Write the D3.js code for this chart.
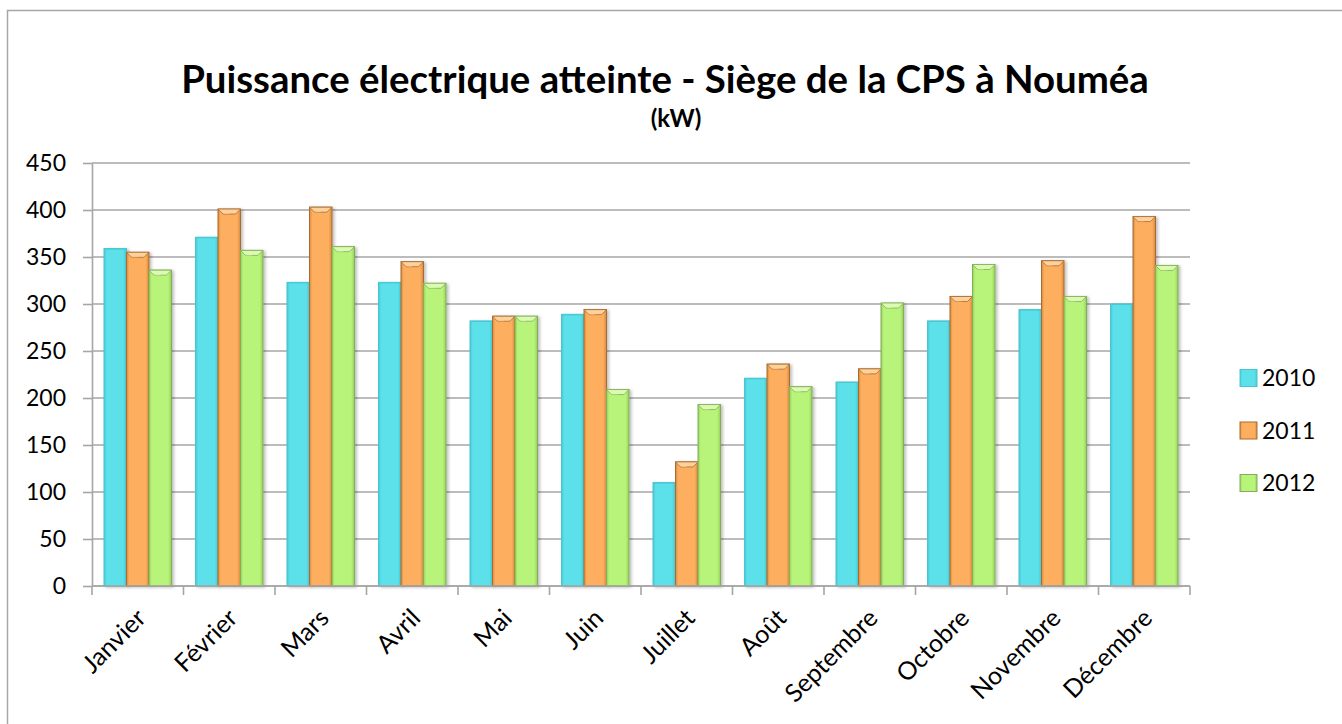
<!DOCTYPE html>
<html>
<head>
<meta charset="utf-8">
<script src="https://cdn.jsdelivr.net/npm/d3@7"></script>
<style>
  html, body { margin: 0; padding: 0; background: #ffffff; }
  svg { display: block; }
</style>
</head>
<body>
<svg id="chart" width="1342" height="724"></svg>
<script>
// ---------- data ----------
const months = ["Janvier", "Février", "Mars", "Avril", "Mai", "Juin", "Juillet", "Août", "Septembre", "Octobre", "Novembre", "Décembre"];
const seriesNames = ["2010", "2011", "2012"];
const values2010 = [359, 371, 323, 323, 282, 289, 110, 221, 217, 282, 294, 300];
const values2011 = [355, 401, 403, 345, 287, 294, 132, 236, 231, 308, 346, 393];
const values2012 = [336, 357, 361, 322, 287, 209, 193, 212, 301, 342, 308, 341];
const yTicks = [0, 50, 100, 150, 200, 250, 300, 350, 400, 450];
const titleText = "Puissance électrique atteinte - Siège de la CPS à Nouméa";
const subtitleText = "(kW)";

const seriesValues = [values2010, values2011, values2012];
const palette = {
  "2010": { base: "#5ce0e9", light: "#8cecf2", dark: "#45c8d4", edge: "#4cc4cf" },
  "2011": { base: "#fdae5f", light: "#ffd29b", dark: "#d88a3e", edge: "#a86c33" },
  "2012": { base: "#b8f47a", light: "#dcfbb2", dark: "#94d15a", edge: "#84ad5a" }
};

// ---------- layout ----------
const svg = d3.select("#chart");
const plot = { left: 92, right: 1190, top: 163, bottom: 586 };
const fontFamily = "Lato, 'Open Sans', 'DejaVu Sans', sans-serif";

// outer border
svg.append("rect")
  .attr("x", 7.5).attr("y", 10.5)
  .attr("width", 1400).attr("height", 800)
  .attr("fill", "#ffffff")
  .attr("stroke", "#a6a6a6").attr("stroke-width", 1.5);

// defs: gradients
const defs = svg.append("defs");
seriesNames.forEach(s => {
  const c = palette[s];
  const g = defs.append("linearGradient").attr("id", "grad" + s)
    .attr("x1", "0").attr("x2", "1").attr("y1", "0").attr("y2", "0");
  g.append("stop").attr("offset", "0%").attr("stop-color", c.dark);
  g.append("stop").attr("offset", "12%").attr("stop-color", c.base);
  g.append("stop").attr("offset", "85%").attr("stop-color", c.base);
  g.append("stop").attr("offset", "100%").attr("stop-color", c.dark);
});
const shadow = defs.append("filter").attr("id", "shadow")
  .attr("x", "-20%").attr("y", "-5%").attr("width", "150%").attr("height", "115%");
shadow.append("feDropShadow").attr("dx", 2).attr("dy", 1).attr("stdDeviation", 1.5)
  .attr("flood-color", "#000").attr("flood-opacity", 0.25);

// scales
const x0 = d3.scaleBand()
  .domain(months)
  .range([plot.left, plot.right])
  .paddingInner(0.2623)
  .paddingOuter(0.1311);
const x1 = d3.scaleBand()
  .domain(seriesNames)
  .range([0, x0.bandwidth()]);
const y = d3.scaleLinear()
  .domain([0, 450])
  .range([plot.bottom, plot.top]);

// gridlines
svg.append("g").selectAll("line")
  .data(yTicks)
  .join("line")
  .attr("x1", plot.left).attr("x2", plot.right)
  .attr("y1", d => y(d)).attr("y2", d => y(d))
  .attr("stroke", "#a6a6a6").attr("stroke-width", 1.6);

// y axis
const yAxis = svg.append("g")
  .attr("transform", `translate(${plot.left},0)`)
  .call(d3.axisLeft(y).tickValues(yTicks).tickSize(9).tickSizeOuter(0).tickPadding(17));
yAxis.select(".domain").attr("stroke", "#a6a6a6").attr("stroke-width", 1.6);
yAxis.selectAll(".tick line").attr("stroke", "#a6a6a6").attr("stroke-width", 1.6);
yAxis.selectAll(".tick text")
  .attr("font-family", fontFamily).attr("font-size", 23).attr("fill", "#000");

// bars
const step = x0.step();
const groups = svg.append("g").selectAll("g")
  .data(months)
  .join("g")
  .attr("transform", d => `translate(${x0(d)},0)`);

groups.each(function(m, i) {
  const g = d3.select(this);
  seriesNames.forEach((s, k) => {
    const v = seriesValues[k][i];
    const bx = x1(s), bw = x1.bandwidth();
    const by = y(v), bh = y(0) - y(v);
    const c = palette[s];
    const bar = g.append("g").attr("filter", "url(#shadow)");
    bar.append("rect")
      .attr("x", bx).attr("y", by).attr("width", bw).attr("height", bh)
      .attr("fill", `url(#grad${s})`)
      .attr("stroke", c.edge).attr("stroke-width", 1);
    const b = 5;
    if (s !== "2010") {
      bar.append("polygon")
        .attr("points", [[bx, by], [bx + bw, by], [bx + bw - b, by + b], [bx + b, by + b]].map(p => p.join(",")).join(" "))
        .attr("fill", c.light).attr("stroke", c.edge).attr("stroke-width", 0.8);
      bar.append("polygon")
        .attr("points", [[bx + b, by + b], [bx + bw / 2, by + b + 0.01], [bx + bw / 2, by + 1]].map(p => p.join(",")).join(" "))
        .attr("fill", c.light).attr("opacity", 0.6);
    } else {
      bar.append("line")
        .attr("x1", bx).attr("x2", bx + bw).attr("y1", by + 0.5).attr("y2", by + 0.5)
        .attr("stroke", c.dark).attr("stroke-width", 1);
    }
  });
});

// x axis line and boundary ticks
svg.append("line")
  .attr("x1", plot.left).attr("x2", plot.right)
  .attr("y1", y(0)).attr("y2", y(0))
  .attr("stroke", "#a6a6a6").attr("stroke-width", 1.6);
const boundaries = months.map(m => x0(m) - step * x0.paddingInner() / 2);
boundaries.push(plot.right);
svg.append("g").selectAll("line")
  .data(boundaries)
  .join("line")
  .attr("x1", d => d).attr("x2", d => d)
  .attr("y1", y(0)).attr("y2", y(0) + 9)
  .attr("stroke", "#a6a6a6").attr("stroke-width", 1.6);

// x labels rotated
svg.append("g").selectAll("text")
  .data(months)
  .join("text")
  .attr("transform", d => `translate(${x0(d) + x0.bandwidth() / 2 + 4},614) rotate(-45)`)
  .attr("y", 8)
  .attr("text-anchor", "end")
  .attr("font-family", fontFamily).attr("font-size", 25).attr("fill", "#000")
  .text(d => d);

// title
const title = svg.append("text")
  .attr("x", 665).attr("y", 93)
  .attr("text-anchor", "middle")
  .attr("font-family", fontFamily).attr("font-weight", "bold")
  .attr("font-size", 36).attr("fill", "#000")
  .text(titleText);
const tw = title.node().getComputedTextLength();
title.attr("font-size", 36 * 968 / tw);

svg.append("text")
  .attr("x", 676).attr("y", 127)
  .attr("text-anchor", "middle")
  .attr("font-family", fontFamily).attr("font-weight", "bold")
  .attr("font-size", 24).attr("fill", "#000")
  .text(subtitleText);

// legend
const legend = svg.append("g").selectAll("g")
  .data(seriesNames)
  .join("g")
  .attr("transform", (d, i) => `translate(1240,${378 + i * 52.5})`);
legend.append("rect")
  .attr("x", 0).attr("y", -8.5).attr("width", 17).attr("height", 17)
  .attr("fill", d => `url(#grad${d})`)
  .attr("stroke", d => palette[d].edge).attr("stroke-width", 1);
legend.append("text")
  .attr("x", 22).attr("y", 0).attr("dy", "0.35em")
  .attr("font-family", fontFamily).attr("font-size", 23).attr("fill", "#000")
  .text(d => d);
</script>
</body>
</html>
